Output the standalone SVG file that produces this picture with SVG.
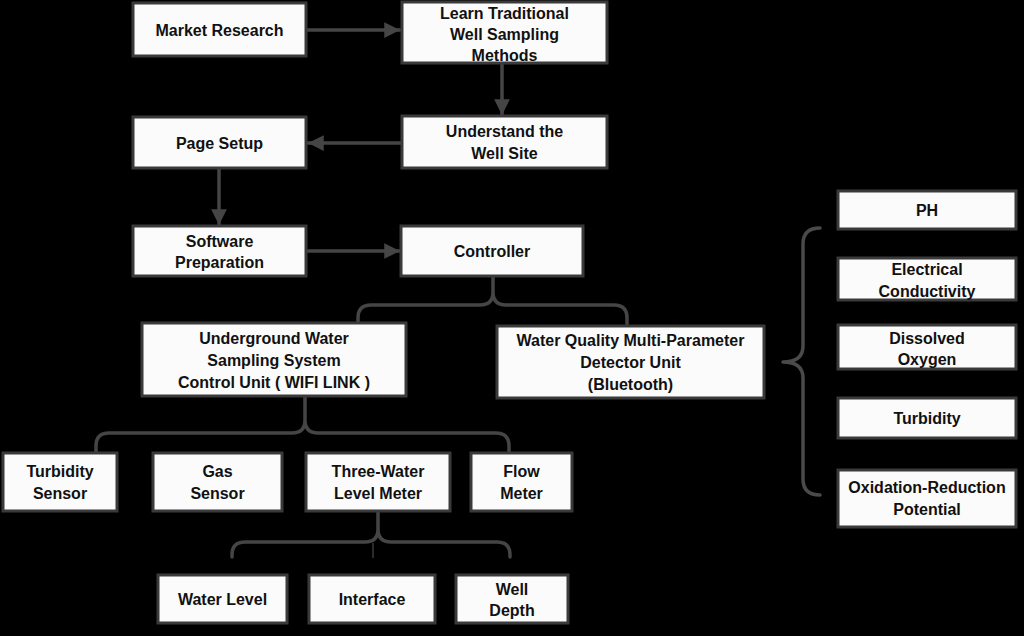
<svg xmlns="http://www.w3.org/2000/svg" width="1024" height="636" viewBox="0 0 1024 636">
<defs>
<style>
.box{fill:#fbfbfb;stroke:#3a3a3a;stroke-width:3}
.t{font-family:"Liberation Sans",Arial,Helvetica,sans-serif;font-weight:bold;font-size:16px;fill:#111;text-anchor:middle}
.c{fill:none;stroke:#454545;stroke-width:3.5;stroke-linecap:round;stroke-linejoin:round}
.thin{fill:none;stroke:#3a3a3a;stroke-width:1.5}
</style>
<marker id="ah" viewBox="0 0 10 10" refX="10" refY="5" markerWidth="5.5" markerHeight="4.5" markerUnits="strokeWidth" orient="auto">
<path d="M0,0 L10,5 L0,10 Z" fill="#454545"/>
</marker>
</defs>
<rect x="0" y="0" width="1024" height="636" fill="#000"/>

<g id="connectors">
<line class="c" x1="307" y1="30" x2="400" y2="30" marker-end="url(#ah)"/>
<line class="c" x1="502" y1="64" x2="502" y2="115" marker-end="url(#ah)"/>
<line class="c" x1="401" y1="143" x2="308" y2="143" marker-end="url(#ah)"/>
<line class="c" x1="219" y1="169" x2="219" y2="225" marker-end="url(#ah)"/>
<line class="c" x1="307" y1="251" x2="400" y2="251" marker-end="url(#ah)"/>
<path class="c" d="M358,322 V318 Q358,305 371,305 H480 Q493,305 493,292 V277 M493,292 Q493,305 506,305 H614 Q627,305 627,318 V325"/>
<path class="c" d="M96,452 V446 Q96,433 109,433 H292 Q305,433 305,420 V397 M305,420 Q305,433 318,433 H496 Q509,433 509,446 V452"/>
<path class="c" d="M232,557 V555 Q232,542 245,542 H365 Q378,542 378,529 V512 M378,529 Q378,542 391,542 H497 Q510,542 510,555 V557"/>
<line class="thin" x1="373" y1="543" x2="373" y2="558"/>
<path class="c" style="stroke:#4a4a4a" d="M820,228 Q803,228 803,244 V346 Q803,362 783,362 Q803,362 803,378 V479 Q803,495 820,495"/>
</g>

<g id="market-research"><rect class="box" x="133" y="3" width="173" height="53"/><text class="t" x="219.5" y="35.5">Market Research</text></g>
<g id="learn-traditional"><rect class="box" x="402" y="2" width="205" height="61"/><text class="t" x="504.5" y="18.5">Learn Traditional</text><text class="t" x="504.5" y="39.5">Well Sampling</text><text class="t" x="504.5" y="60.5">Methods</text></g>
<g id="understand-site"><rect class="box" x="402" y="116" width="205" height="52"/><text class="t" x="504.5" y="137">Understand the</text><text class="t" x="504.5" y="159">Well Site</text></g>
<g id="page-setup"><rect class="box" x="133" y="117" width="173" height="51"/><text class="t" x="219.5" y="148.5">Page Setup</text></g>
<g id="software-preparation"><rect class="box" x="133" y="226" width="173" height="50"/><text class="t" x="219.5" y="246.5">Software</text><text class="t" x="219.5" y="267.5">Preparation</text></g>
<g id="controller"><rect class="box" x="401" y="226" width="182" height="50"/><text class="t" x="492" y="256.5">Controller</text></g>
<g id="underground-unit"><rect class="box" x="142" y="323" width="264" height="73"/><text class="t" x="274" y="343.5">Underground Water</text><text class="t" x="274" y="365.5">Sampling System</text><text class="t" x="274" y="387.5">Control Unit ( WIFI LINK )</text></g>
<g id="water-quality-unit"><rect class="box" x="497" y="326" width="267" height="72"/><text class="t" x="630.5" y="345.5">Water Quality Multi-Parameter</text><text class="t" x="630.5" y="367.5">Detector Unit</text><text class="t" x="630.5" y="389.5">(Bluetooth)</text></g>
<g id="turbidity-sensor"><rect class="box" x="3" y="453" width="114" height="58"/><text class="t" x="60" y="476.5">Turbidity</text><text class="t" x="60" y="498.5">Sensor</text></g>
<g id="gas-sensor"><rect class="box" x="153" y="453" width="129" height="58"/><text class="t" x="217.5" y="476.5">Gas</text><text class="t" x="217.5" y="498.5">Sensor</text></g>
<g id="three-water-meter"><rect class="box" x="306" y="453" width="144" height="58"/><text class="t" x="378" y="476.5">Three-Water</text><text class="t" x="378" y="498.5">Level Meter</text></g>
<g id="flow-meter"><rect class="box" x="471" y="453" width="101" height="58"/><text class="t" x="521.5" y="476.5">Flow</text><text class="t" x="521.5" y="498.5">Meter</text></g>
<g id="water-level"><rect class="box" x="158" y="575" width="129" height="48"/><text class="t" x="222.5" y="605">Water Level</text></g>
<g id="interface"><rect class="box" x="309" y="575" width="126" height="48"/><text class="t" x="372" y="605">Interface</text></g>
<g id="well-depth"><rect class="box" x="456" y="575" width="112" height="48"/><text class="t" x="512" y="594.5">Well</text><text class="t" x="512" y="615.5">Depth</text></g>
<g id="ph"><rect class="box" x="838" y="191" width="178" height="38"/><text class="t" x="927" y="215.5">PH</text></g>
<g id="electrical-conductivity"><rect class="box" x="838" y="258" width="178" height="42"/><text class="t" x="927" y="274.5">Electrical</text><text class="t" x="927" y="296.5">Conductivity</text></g>
<g id="dissolved-oxygen"><rect class="box" x="838" y="325" width="178" height="44"/><text class="t" x="927" y="343.5">Dissolved</text><text class="t" x="927" y="364.5">Oxygen</text></g>
<g id="turbidity"><rect class="box" x="838" y="398" width="178" height="40"/><text class="t" x="927" y="423.5">Turbidity</text></g>
<g id="orp"><rect class="box" x="838" y="470" width="178" height="57"/><text class="t" x="927" y="492.5">Oxidation-Reduction</text><text class="t" x="927" y="514.5">Potential</text></g>
</svg>
